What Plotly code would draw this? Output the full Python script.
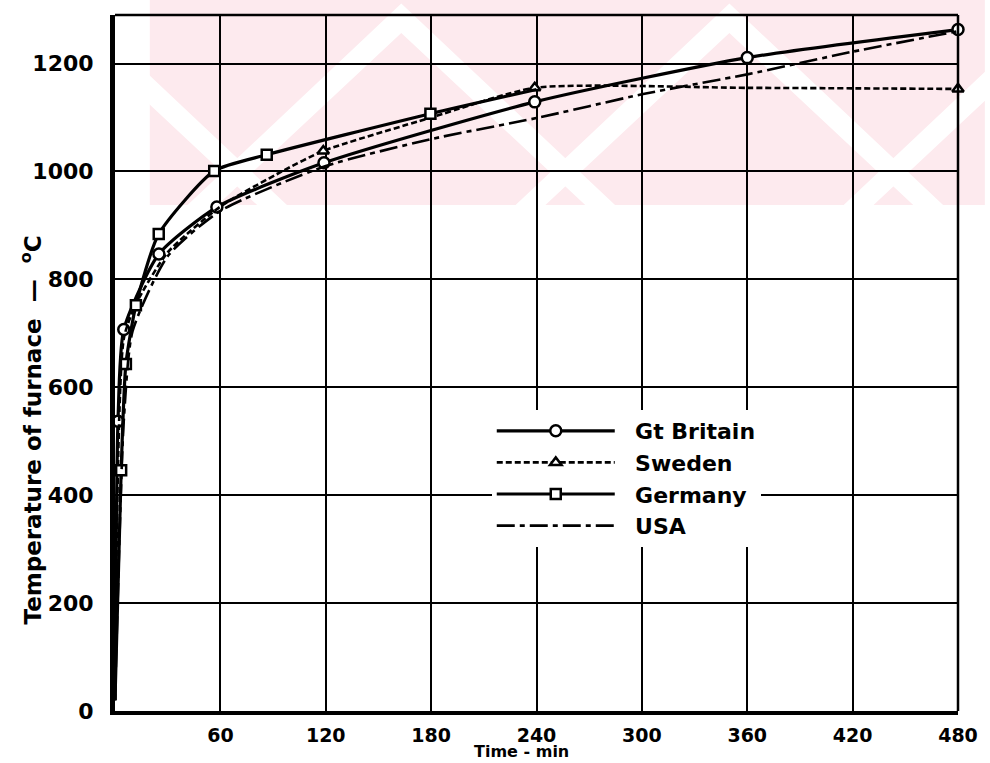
import plotly.graph_objects as go

# ---------------- data ----------------
GB_T = [0, 1.7, 5, 25, 58, 119, 239, 360, 480]
GB_Y = [20, 537, 707, 847, 934, 1016, 1129, 1211, 1263]

SWE_T = [0, 5, 12, 30, 60, 95, 118.6, 180, 239, 360, 480]
SWE_Y = [20, 690, 755, 850, 935, 1000, 1038, 1100, 1155, 1155, 1153]

GER_T = [0, 3.5, 6.2, 11.9, 24.9, 56.5, 86.4, 179.6, 240]
GER_Y = [20, 446, 643, 752, 884, 1001, 1031, 1107, 1152]

USA_T = [0, 5, 10, 30, 60, 120, 180, 240, 300, 360, 420, 480]
USA_Y = [20, 538, 704, 843, 927, 1010, 1060, 1099, 1143, 1180, 1222, 1260]

X_TICKS = [60, 120, 180, 240, 300, 360, 420, 480]
Y_TICKS = [0, 200, 400, 600, 800, 1000, 1200]

# ---------------- figure ----------------
W, H = 990, 763
L, R, T, B = 115, 27, 15, 52
PW, PH = W - L - R, H - T - B

FONT = "DejaVu Sans"
NB = "\u00a0"

def px(xp, yp):
    return (xp - L) / PW, (H - B - yp) / PH

fig = go.Figure()

def add_series(name, t, y, dash, width, symbol, marked, msize):
    fig.add_trace(go.Scatter(
        x=t, y=y, name=NB * 2 + name, legendgroup=name,
        mode="lines+markers" if symbol else "lines",
        line=dict(color="black", width=width, dash=dash, shape="spline", smoothing=0.6),
        marker=dict(symbol=symbol or "circle", size=msize, color="white",
                    line=dict(color="black", width=2.5)),
        selectedpoints=marked if symbol else None,
        selected=dict(marker=dict(opacity=1)),
        unselected=dict(marker=dict(opacity=0)),
        cliponaxis=False,
    ))

add_series("Gt Britain", GB_T, GB_Y, "solid", 3.2, "circle", list(range(1, len(GB_T))), 11)
add_series("Sweden", SWE_T, SWE_Y, "6px,3px", 2.6, "triangle-up", [6, 8, 10], 10)
add_series("Germany", GER_T, GER_Y, "solid", 3.2, "square", list(range(1, len(GER_T) - 1)), 10)
add_series("USA", USA_T, USA_Y, "18px,5px,5px,5px", 2.6, None, None, 0)

shapes = []
# watermark-like pink band with white chevron stripes (background)
pink = "#fdeaee"
x0, y0 = px(150, 0)
x1, y1 = px(990, 205)
shapes.append(dict(type="rect", xref="paper", yref="paper", x0=x0, y0=y1, x1=x1, y1=y0,
                   fillcolor=pink, line=dict(width=0), layer="below"))

def white_chevron(ax, ay, leg=185, w=30):
    pts = [(ax, ay), (ax + leg, ay + leg), (ax + leg + w, ay + leg), (ax, ay - w * 0.98),
           (ax - leg - w, ay + leg), (ax - leg, ay + leg)]
    d = ""
    for i, (a, b) in enumerate(pts):
        u, v = px(a, min(b, 205))
        d += ("M" if i == 0 else "L") + f"{u:.4f},{v:.4f} "
    return dict(type="path", xref="paper", yref="paper", path=d + "Z",
                fillcolor="white", line=dict(width=0), layer="below")

for ax in [73, 403, 733, 1063]:
    shapes.append(white_chevron(ax, 33))

# top and right frame lines
shapes.append(dict(type="line", xref="paper", yref="paper", x0=0, x1=1, y0=1, y1=1,
                   line=dict(color="black", width=2.5)))
shapes.append(dict(type="line", xref="paper", yref="paper", x0=1, x1=1, y0=0, y1=1,
                   line=dict(color="black", width=2.5)))

tx, ty = px(524, 751)
annotations = [
    dict(text="<b>Time - min</b>", xref="paper", yref="paper", x=tx, y=ty,
         showarrow=False, font=dict(family=FONT, size=16, color="black"),
         xanchor="center", yanchor="middle", borderpad=0),
]
ax_, ay_ = px(31, 430)
annotations.append(dict(text="<b>Temperature of furnace  —  <sup>o</sup>C</b>",
                        xref="paper", yref="paper", x=ax_, y=ay_, textangle=-90,
                        showarrow=False, font=dict(family=FONT, size=23, color="black"),
                        xanchor="center", yanchor="middle"))

lx, ly = px(494, 410)
fig.update_layout(
    width=W, height=H,
    margin=dict(l=L, r=R, t=T, b=B, pad=0),
    paper_bgcolor="white", plot_bgcolor="rgba(0,0,0,0)",
    shapes=shapes, annotations=annotations,
    showlegend=True,
    legend=dict(x=lx, y=ly, xanchor="left", yanchor="top",
                bgcolor="white", borderwidth=0,
                font=dict(family=FONT, size=22, color="black", weight="bold"),
                itemwidth=118, tracegroupgap=0, itemclick=False),
    xaxis=dict(range=[0, 480], tickvals=X_TICKS, ticktext=[str(v) for v in X_TICKS],
               showgrid=True, gridcolor="black", gridwidth=2.2,
               showline=True, linecolor="black", linewidth=4, mirror=False,
               zeroline=False, ticks="", ticklabelstandoff=4,
               tickfont=dict(family=FONT, size=19, color="black", weight="bold")),
    yaxis=dict(range=[0, 1290], tickvals=Y_TICKS, ticktext=[str(v) for v in Y_TICKS],
               showgrid=True, gridcolor="black", gridwidth=2.2,
               showline=True, linecolor="black", linewidth=5, mirror=False,
               zeroline=False, ticks="", ticklabelstandoff=12,
               tickfont=dict(family=FONT, size=22, color="black", weight="bold")),
)

fig.write_html("out.html", config={"displayModeBar": False},
               post_script="document.body.style.margin='0px';document.body.style.padding='0px';")
